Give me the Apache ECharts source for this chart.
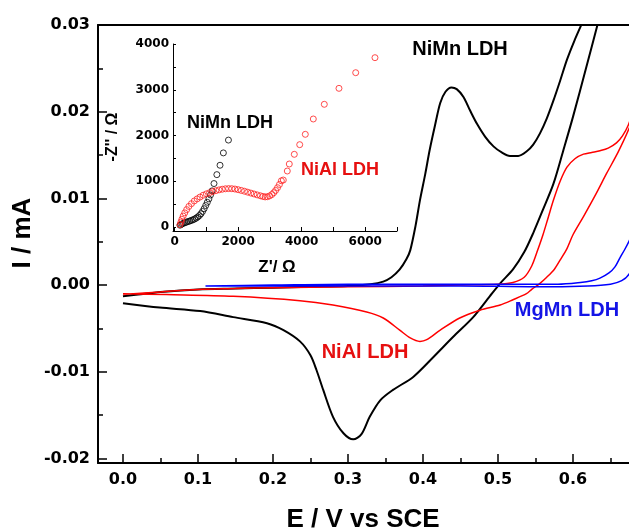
<!DOCTYPE html>
<html>
<head>
<meta charset="utf-8">
<script src="https://cdn.jsdelivr.net/npm/echarts@6/dist/echarts.min.js"></script>
<style>
html,body{margin:0;padding:0;background:#fff;}
#chart{width:629px;height:532px;}
</style>
</head>
<body>
<div id="chart"></div>
<script>
// ---- main CV data: [E (V vs SCE), I (mA)] ----
const niMnAnodic = [[0,-0.0013],[0.02,-0.0011],[0.05,-0.0008],[0.1,-0.0005],[0.15,-0.0004],[0.2,-0.0003],[0.25,-0.0002],[0.3,-0.0001],[0.33,0.0001],[0.347,0.0004],[0.358,0.0009],[0.369,0.0018],[0.378,0.003],[0.383,0.004],[0.39,0.0068],[0.396,0.0098],[0.403,0.0128],[0.409,0.0156],[0.416,0.0184],[0.423,0.021],[0.43,0.0223],[0.438,0.0228],[0.445,0.0226],[0.454,0.0217],[0.463,0.0201],[0.472,0.0186],[0.483,0.0171],[0.494,0.016],[0.505,0.0153],[0.516,0.0149],[0.527,0.0149],[0.538,0.0154],[0.547,0.0162],[0.556,0.0175],[0.565,0.0192],[0.574,0.0213],[0.583,0.0236],[0.592,0.026],[0.602,0.0282],[0.612,0.0302],[0.625,0.033]];
const niMnCathodic = [[0.645,0.034],[0.632,0.0298],[0.618,0.0252],[0.6,0.0194],[0.587,0.0155],[0.574,0.0117],[0.56,0.0087],[0.547,0.006],[0.535,0.0038],[0.52,0.0018],[0.503,0.0002],[0.489,-0.0013],[0.467,-0.0037],[0.44,-0.006],[0.414,-0.0083],[0.387,-0.0106],[0.36,-0.0121],[0.343,-0.0133],[0.329,-0.0152],[0.318,-0.0172],[0.307,-0.0178],[0.294,-0.0171],[0.28,-0.0152],[0.267,-0.0121],[0.258,-0.0098],[0.25,-0.0081],[0.236,-0.0065],[0.214,-0.0052],[0.192,-0.0044],[0.147,-0.0037],[0.103,-0.003],[0.049,-0.0026],[0,-0.0021]];

const niAlAnodic = [[0,-0.0011],[0.05,-0.0008],[0.1,-0.0005],[0.15,-0.0004],[0.2,-0.0003],[0.3,-0.0002],[0.4,-0.0001],[0.45,0],[0.5,0.0001],[0.52,0.0003],[0.535,0.0009],[0.545,0.0022],[0.552,0.0038],[0.56,0.0058],[0.567,0.0078],[0.574,0.0098],[0.583,0.012],[0.592,0.0136],[0.603,0.0146],[0.614,0.0151],[0.625,0.0153],[0.636,0.0155],[0.647,0.0158],[0.658,0.0164],[0.666,0.0172],[0.674,0.0185],[0.682,0.0205]];
const niAlCathodic = [[0.69,0.0215],[0.674,0.0179],[0.66,0.0153],[0.645,0.0129],[0.63,0.0104],[0.614,0.0079],[0.6,0.0058],[0.592,0.0042],[0.583,0.0029],[0.575,0.0018],[0.565,0.0009],[0.556,0.0002],[0.545,-0.0005],[0.538,-0.001],[0.52,-0.0017],[0.503,-0.0023],[0.476,-0.0029],[0.449,-0.0038],[0.423,-0.0052],[0.405,-0.0063],[0.396,-0.0065],[0.383,-0.0061],[0.369,-0.0052],[0.347,-0.0038],[0.325,-0.0031],[0.28,-0.0023],[0.236,-0.0018],[0.147,-0.0013],[0.058,-0.0011],[0,-0.001]];

const mgMnAnodic = [[0.11,-0.0001],[0.2,0],[0.3,0.0001],[0.4,0.0001],[0.5,0.0001],[0.58,0.0001],[0.61,0.0003],[0.625,0.0005],[0.636,0.0008],[0.648,0.0014],[0.656,0.0021],[0.663,0.0032],[0.669,0.0041],[0.675,0.0051],[0.682,0.0065]];
const mgMnCathodic = [[0.69,0.004],[0.675,0.0013],[0.665,0.0005],[0.65,0.0001],[0.62,-0.0001],[0.55,-0.0002],[0.45,-0.0001],[0.3,-0.0001],[0.2,-0.0001],[0.11,-0.0001]];

// ---- inset Nyquist data: [Z' (ohm), -Z'' (ohm)] ----
const niMnNyquist = [[170,40],[200,55],[240,70],[280,82],[330,95],[380,108],[430,120],[480,132],[530,145],[580,158],[630,175],[680,195],[730,220],[780,250],[830,290],[880,340],[930,400],[980,470],[1030,540],[1080,615],[1130,700],[1180,790],[1240,950],[1330,1145],[1430,1350],[1535,1620],[1695,1900]];
const niAlNyquist = [[170,50],[200,110],[230,170],[270,240],[320,310],[380,380],[450,450],[530,510],[620,570],[710,615],[800,655],[900,695],[1000,725],[1100,750],[1200,775],[1300,795],[1400,812],[1500,826],[1600,836],[1700,840],[1800,838],[1900,830],[2000,816],[2100,800],[2200,782],[2300,762],[2400,742],[2500,722],[2600,702],[2700,683],[2780,668],[2850,658],[2920,662],[2990,680],[3060,710],[3120,750],[3180,800],[3240,860],[3300,930],[3360,1010],[3421,1027],[3547,1224],[3610,1377],[3768,1589],[3938,1800],[4114,2026],[4366,2361],[4712,2682],[5174,3031],[5700,3373],[6307,3701]];

// ---- tick values ----
const xMajorTicks = [0,0.1,0.2,0.3,0.4,0.5,0.6];
const xMinorTicks = [0.05,0.15,0.25,0.35,0.45,0.55,0.65];
const yMajorTicks = [-0.02,-0.01,0,0.01,0.02,0.03];
const yMinorTicks = [-0.015,-0.005,0.005,0.015,0.025];
const insetXTicks = [0,1000,2000,3000,4000,5000,6000,7000];
const insetXLabels = [0,2000,4000,6000];
const insetYTicks = [0,500,1000,1500,2000,2500,3000,3500,4000];
const insetYLabels = [0,1000,2000,3000,4000];

const tickFont = {fontFamily:'DejaVu Sans', fontWeight:'bold', fontSize:16, color:'#000'};
const insetTickFont = {fontFamily:'DejaVu Sans', fontWeight:'bold', fontSize:12, color:'#000'};

const chart = echarts.init(document.getElementById('chart'), null, {renderer:'canvas'});
const noSplit = {show:false};
const option = {
  backgroundColor:'#fff',
  animation:false,
  grid:[
    {left:98, top:25, width:531, height:438},
    {left:173, top:44, width:224, height:187}
  ],
  xAxis:[
    {gridIndex:0, type:'value', position:'bottom', min:-0.0333, max:0.6747,
     axisLine:{show:true, onZero:false, lineStyle:{color:'#000', width:2}},
     axisTick:{show:true, inside:true, length:9, customValues:xMajorTicks, lineStyle:{color:'#000', width:1.5}},
     axisLabel:{show:true, margin:9, customValues:xMajorTicks, formatter:v=>v.toFixed(1), ...tickFont},
     splitLine:noSplit},
    {gridIndex:0, type:'value', position:'bottom', min:-0.0333, max:0.6747,
     axisLine:{show:false, onZero:false},
     axisTick:{show:true, inside:true, length:5, customValues:xMinorTicks, lineStyle:{color:'#000', width:1.5}},
     axisLabel:{show:false}, splitLine:noSplit},
    {gridIndex:0, type:'value', position:'top', min:-0.0333, max:0.6747,
     axisLine:{show:true, onZero:false, lineStyle:{color:'#000', width:2}},
     axisTick:{show:false}, axisLabel:{show:false}, splitLine:noSplit},
    {gridIndex:1, type:'value', position:'bottom', min:-50, max:7000,
     axisLine:{show:true, onZero:false, lineStyle:{color:'#000', width:1}},
     axisTick:{show:true, inside:true, length:4, customValues:insetXTicks, lineStyle:{color:'#000', width:1}},
     axisLabel:{show:true, margin:5, customValues:insetXLabels, formatter:v=>String(Math.round(v)), ...insetTickFont},
     splitLine:noSplit}
  ],
  yAxis:[
    {gridIndex:0, type:'value', position:'left', min:-0.02053, max:0.03,
     axisLine:{show:true, onZero:false, lineStyle:{color:'#000', width:2}},
     axisTick:{show:true, inside:true, length:9, customValues:yMajorTicks, lineStyle:{color:'#000', width:1.5}},
     axisLabel:{show:true, margin:8, customValues:yMajorTicks, formatter:v=>v.toFixed(2), ...tickFont},
     splitLine:noSplit},
    {gridIndex:0, type:'value', position:'left', min:-0.02053, max:0.03,
     axisLine:{show:false, onZero:false},
     axisTick:{show:true, inside:true, length:5, customValues:yMinorTicks, lineStyle:{color:'#000', width:1.5}},
     axisLabel:{show:false}, splitLine:noSplit},
    {gridIndex:1, type:'value', position:'left', min:-87, max:4000,
     axisLine:{show:true, onZero:false, lineStyle:{color:'#000', width:1}},
     axisTick:{show:true, inside:true, length:3, customValues:insetYTicks, lineStyle:{color:'#000', width:1}},
     axisLabel:{show:true, margin:4, customValues:insetYLabels, formatter:v=>String(Math.round(v)), ...insetTickFont},
     splitLine:noSplit}
  ],
  series:[
    {name:'NiMn LDH', type:'line', xAxisIndex:0, yAxisIndex:0, data:niMnAnodic.concat(niMnCathodic),
     showSymbol:false, smooth:0.3, clip:true, lineStyle:{color:'#000', width:2}},
    {name:'NiAl LDH', type:'line', xAxisIndex:0, yAxisIndex:0, data:niAlAnodic.concat(niAlCathodic),
     showSymbol:false, smooth:0.3, clip:true, lineStyle:{color:'#ff0000', width:1.5}},
    {name:'MgMn LDH', type:'line', xAxisIndex:0, yAxisIndex:0, data:mgMnAnodic.concat(mgMnCathodic),
     showSymbol:false, smooth:0.3, clip:true, lineStyle:{color:'#0000ff', width:1.5}},
    {name:'NiMn EIS', type:'scatter', xAxisIndex:3, yAxisIndex:2, data:niMnNyquist,
     symbol:'circle', symbolSize:6, itemStyle:{color:'rgba(0,0,0,0)', borderColor:'#000', borderWidth:1}},
    {name:'NiAl EIS', type:'scatter', xAxisIndex:3, yAxisIndex:2, data:niAlNyquist,
     symbol:'circle', symbolSize:6, itemStyle:{color:'rgba(0,0,0,0)', borderColor:'#ff2020', borderWidth:1}}
  ],
  graphic:[
    {type:'text', x:363, y:520, style:{text:'E / V vs SCE', font:'bold 26px "Liberation Sans"', fill:'#000', textAlign:'center', textVerticalAlign:'middle'}},
    {type:'text', x:23, y:233, rotation:Math.PI/2, style:{text:'I / mA', font:'bold 26px "Liberation Sans"', fill:'#000', textAlign:'center', textVerticalAlign:'middle'}},
    {type:'text', x:113, y:137, rotation:Math.PI/2, style:{text:"-Z'' / Ω", font:'bold 16px "Liberation Sans"', fill:'#000', textAlign:'center', textVerticalAlign:'middle'}},
    {type:'text', x:277, y:267, style:{text:"Z'/ Ω", font:'bold 17px "Liberation Sans"', fill:'#000', textAlign:'center', textVerticalAlign:'middle'}},
    {type:'text', x:460, y:49, style:{text:'NiMn LDH', font:'bold 20px "Liberation Sans"', fill:'#000', textAlign:'center', textVerticalAlign:'middle'}},
    {type:'text', x:365, y:352, style:{text:'NiAl LDH', font:'bold 20px "Liberation Sans"', fill:'#e61010', textAlign:'center', textVerticalAlign:'middle'}},
    {type:'text', x:567, y:310, style:{text:'MgMn LDH', font:'bold 20px "Liberation Sans"', fill:'#1414e6', textAlign:'center', textVerticalAlign:'middle'}},
    {type:'text', x:230, y:123, style:{text:'NiMn LDH', font:'bold 18px "Liberation Sans"', fill:'#000', textAlign:'center', textVerticalAlign:'middle'}},
    {type:'text', x:340, y:170, style:{text:'NiAl LDH', font:'bold 18px "Liberation Sans"', fill:'#e61010', textAlign:'center', textVerticalAlign:'middle'}}
  ]
};
chart.setOption(option);
</script>
</body>
</html>
